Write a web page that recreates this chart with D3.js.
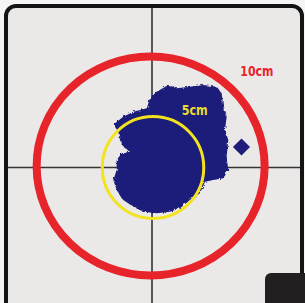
<!DOCTYPE html>
<html><head><meta charset="utf-8">
<script src="https://cdn.jsdelivr.net/npm/d3@7"></script>
<style>html,body{margin:0;padding:0;background:#f6f5f5;overflow:hidden}</style>
</head><body>
<script>
// Rings (cm), centre offsets and radii in cm
const ringLabels = ["10cm", "5cm"];
const ringCx = [-0.12, 0.09];
const ringCy = [0.14, 0.0];
const ringRx = [10, 4.45];
const ringRy = [10, 4.65];
const ringColors = ["#e8242b", "#f2e31e"];
const ringWidths = [8, 3];
// label anchor positions in cm
const labelX = [7.75, 2.6];
const labelY = [8.4, 4.8];
const labelSize = [14, 14];

// Stain outline (cm, relative to the crosshair)
const blobX = [-3.25,-2.52,-1.64,-0.46,-0.18,0.41,1.43,2.17,3.33,4.50,5.68,6.11,6.25,6.55,6.40,6.69,6.55,6.69,6.25,5.38,4.65,4.21,3.33,2.46,1.58,0.41,-0.76,-1.64,-2.52,-3.10,-3.39,-3.10,-3.10,-2.66,-1.93,-2.52,-2.81,-2.96,-3.25];
const blobY = [4.04,4.64,5.10,5.41,6.32,6.92,7.53,7.23,7.38,7.53,7.38,6.78,5.55,4.64,3.42,2.51,0.99,-0.23,-0.99,-1.14,-1.30,-2.36,-2.97,-3.73,-4.04,-4.18,-4.04,-3.58,-2.97,-2.05,-1.14,-0.23,0.68,1.30,1.44,1.90,2.51,3.27,3.73];
// small satellite drop
const dropX = [7.85, 8.60, 7.85, 7.10];
const dropY = [2.65, 1.87, 1.09, 1.87];

const W = 305, H = 303;
const x = d3.scaleLinear().domain([-10, 10]).range([152 - 114, 152 + 114]);
const y = d3.scaleLinear().domain([-10, 10]).range([167.5 + 109.5, 167.5 - 109.5]);

const svg = d3.select("body").append("svg").attr("width", W).attr("height", H);

const defs = svg.append("defs");
const f = defs.append("filter").attr("id", "rough").attr("x", "-10%").attr("y", "-10%").attr("width", "120%").attr("height", "120%");
f.append("feTurbulence").attr("type", "fractalNoise").attr("baseFrequency", 0.35).attr("numOctaves", 2).attr("seed", 3).attr("result", "n");
f.append("feDisplacementMap").attr("in", "SourceGraphic").attr("in2", "n").attr("scale", 3.5);

// frame
svg.append("rect").attr("x", 6).attr("y", 6).attr("width", 296).attr("height", 310)
  .attr("rx", 10).attr("fill", "#ebe8e8").attr("stroke", "#141414").attr("stroke-width", 4);

// crosshair
svg.append("line").attr("x1", x(0)).attr("x2", x(0)).attr("y1", 8).attr("y2", H)
  .attr("stroke", "#333").attr("stroke-width", 1.6);
svg.append("line").attr("x1", 8).attr("x2", 300).attr("y1", y(0)).attr("y2", y(0))
  .attr("stroke", "#333").attr("stroke-width", 1.6);

// stain
const line = d3.line().x(d => x(d[0])).y(d => y(d[1])).curve(d3.curveLinearClosed);
svg.append("path").datum(blobX.map((v, i) => [v, blobY[i]]))
  .attr("d", line).attr("fill", "#1f1c7a").attr("filter", "url(#rough)");
svg.append("path").datum(dropX.map((v, i) => [v, dropY[i]]))
  .attr("d", line).attr("fill", "#1f1c7a");

// rings
const k = x(1) - x(0), ky = y(0) - y(1);
ringLabels.forEach((lab, i) => {
  svg.append("ellipse").attr("cx", x(ringCx[i])).attr("cy", y(ringCy[i]))
    .attr("rx", ringRx[i] * k).attr("ry", ringRy[i] * ky)
    .attr("fill", "none").attr("stroke", ringColors[i]).attr("stroke-width", ringWidths[i]);
  svg.append("text").attr("x", x(labelX[i])).attr("y", y(labelY[i]))
    .attr("fill", ringColors[i] === "#f2e31e" ? "#e9dd2c" : "#e8242b")
    .attr("font-family", "'Liberation Sans Narrow', 'DejaVu Sans Condensed', sans-serif")
    .attr("font-weight", "bold").attr("font-size", labelSize[i])
    .attr("textLength", i === 0 ? 33 : 26).attr("lengthAdjust", "spacingAndGlyphs")
    .text(lab);
});

// corner tab
svg.append("rect").attr("x", 265).attr("y", 273).attr("width", 50).attr("height", 40)
  .attr("rx", 6).attr("fill", "#231f20");
</script>
</body></html>
